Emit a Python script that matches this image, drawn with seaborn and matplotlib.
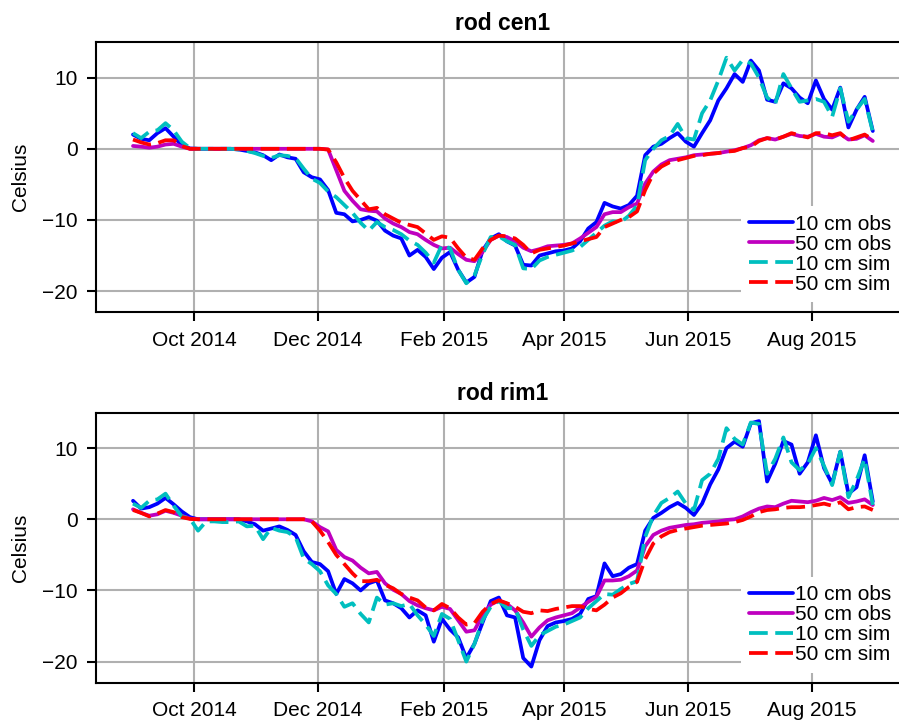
import pandas as pd
import matplotlib.pyplot as plt
import matplotlib.dates as mdates
from matplotlib.ticker import MultipleLocator
import seaborn as sns

# Fechas: una muestra cada 4 dias (1 sep 2014 - 31 ago 2015)
fechas = pd.date_range("2014-09-01", "2015-08-31", freq="4D")

# rod cen1
cen1_obs10 = [2.0, 1.4, 1.2, 2.2, 2.9, 1.7, 0.5, 0.05,
              0, 0, 0, 0, 0, -0.1, -0.3, -0.5, -0.9, -1.6, -0.8, -1.2, -1.4, -3.3, -4.0, -4.3, -5.8,
              -9.0, -9.2, -10.2, -10.0, -9.6, -10.1, -11.5, -12.2, -12.6, -15.0, -14.2, -15.2, -16.9, -15.3, -14.5, -17.0, -18.8,
              -18.0, -14.3, -12.6, -12.0, -13.0, -13.6, -16.3, -16.4, -15.0, -14.7, -14.4, -14.3, -14.0, -13.0, -11.2, -10.3,
              -7.6, -8.1, -8.4, -7.9, -6.6, -0.9, 0.3, 0.7, 1.5, 2.2, 1.0, 0.3, 2.2, 4.0, 6.8, 8.5, 10.5,
              9.4, 12.4, 11.0, 6.9, 6.6, 9.2, 8.5, 7.2, 6.4, 9.6, 7.0, 5.5, 8.6, 3.0, 5.5, 7.3, 2.5]
cen1_obs50 = [0.4, 0.3, 0.15, 0.3, 0.6, 0.7, 0.3, 0.0,
              0, 0, 0, 0, 0, 0, 0, 0, 0, 0, 0, 0, 0, 0, 0, 0, -0.1,
              -3.0, -5.9, -7.3, -8.5, -8.7, -8.8, -9.8, -10.5, -11.0, -11.7, -12.0, -12.8, -13.5, -14.0, -13.9, -14.8, -15.6,
              -15.8, -14.5, -12.8, -12.2, -12.4, -13.0, -13.9, -14.4, -14.1, -13.7, -13.6, -13.5, -13.3, -12.6, -11.8, -11.0,
              -9.2, -8.9, -8.9, -8.2, -7.7, -4.9, -3.2, -2.2, -1.6, -1.4, -1.2, -0.9, -0.8, -0.7, -0.6, -0.4, -0.2,
              0.1, 0.5, 1.2, 1.5, 1.3, 1.7, 2.1, 1.8, 1.7, 2.1, 1.7, 1.6, 2.1, 1.3, 1.4, 1.9, 1.1]
cen1_sim10 = [2.2, 1.5, 2.4, 2.6, 3.6, 2.6, 1.0, 0.1,
              0, 0, 0, 0, 0, -0.1, -0.3, -0.6, -1.0, -1.3, -0.9, -1.0, -1.3, -2.8, -4.2, -4.8, -6.0,
              -6.8, -7.9, -9.0, -10.4, -11.5, -10.3, -11.0, -11.4, -12.0, -12.9, -13.5, -14.6, -16.0, -13.5, -14.0, -17.0, -18.9,
              -17.8, -14.8, -12.4, -12.3, -13.0, -13.5, -16.8, -16.9, -15.7, -15.2, -14.9, -14.6, -14.3, -13.8, -12.8, -11.8,
              -10.8, -10.2, -10.3, -9.4, -8.0, -1.6, 0.0, 1.2, 1.8, 3.5, 1.5, 1.3, 5.0, 6.8, 9.6, 12.8, 11.0,
              12.5, 12.0, 10.0, 7.2, 6.3, 10.5, 8.5, 6.6, 6.8, 7.0, 6.6, 4.5, 8.5, 3.8, 5.5, 7.0, 2.4]
cen1_sim50 = [1.3, 0.9, 0.6, 0.8, 1.2, 1.2, 0.4, 0.0,
              0, 0, 0, 0, 0, 0, 0, 0, 0, 0, 0, 0, 0, 0, 0, 0, -0.1,
              -1.9, -4.1, -5.9, -7.2, -8.5, -8.3, -9.2, -9.8, -10.4, -10.7, -11.0, -11.9, -12.8, -12.3, -12.5, -14.0, -15.3,
              -15.6, -14.0, -12.8, -12.2, -12.3, -12.6, -13.5, -14.7, -14.2, -14.0, -13.8, -13.6, -13.3, -13.0, -12.7, -12.4,
              -11.0, -10.5, -10.0, -9.6, -8.8, -5.8, -3.5, -2.5, -1.9, -1.6, -1.3, -1.0, -0.9, -0.7, -0.6, -0.4, -0.3,
              0.1, 0.3, 1.1, 1.5, 1.3, 1.7, 2.2, 1.9, 1.6, 2.2, 2.2, 1.9, 2.2, 1.2, 1.6, 2.0, 1.3]

# rod rim1
rim1_obs10 = [2.6, 1.5, 1.7, 2.2, 3.0, 2.1, 1.1, 0.3,
              0, 0, 0, 0, 0, 0, -0.3, -0.7, -1.6, -1.3, -1.0, -1.5, -2.2, -4.5, -6.0, -6.3, -7.3,
              -10.5, -8.4, -9.0, -10.0, -9.0, -8.6, -11.4, -11.8, -12.5, -13.8, -12.8, -13.5, -17.2, -14.0, -15.5, -16.6, -19.5,
              -17.5, -14.5, -11.5, -11.0, -13.5, -13.8, -19.5, -20.7, -17.0, -15.0, -14.5, -14.3, -14.0, -13.3, -11.2, -10.8,
              -6.2, -8.0, -7.7, -6.8, -6.3, -1.6, 0.2, 0.9, 1.7, 2.3, 1.6, 0.6, 2.2, 4.9, 7.0, 10.0, 10.9,
              10.2, 13.5, 13.8, 5.3, 7.8, 11.0, 10.5, 6.4, 8.0, 11.8, 7.2, 5.0, 9.5, 3.6, 4.5, 9.0, 2.5]
rim1_obs50 = [1.4, 0.9, 0.5, 0.7, 1.2, 0.9, 0.5, 0.1,
              0, 0, 0, 0, 0, 0, 0, 0, 0, 0, 0, 0, 0, 0, -0.3, -1.1, -1.7,
              -4.3, -5.3, -5.8, -6.8, -7.6, -7.4, -9.0, -9.9, -10.5, -11.5, -12.1, -12.5, -12.8, -12.3, -12.6, -14.2, -15.8,
              -15.6, -13.5, -12.0, -11.4, -11.9, -12.8, -14.5, -16.5, -15.2, -14.2, -13.8, -13.5, -13.2, -12.4, -11.6, -10.9,
              -8.6, -8.6, -8.5, -8.0, -7.2, -3.8, -2.2, -1.6, -1.2, -1.0, -0.8, -0.7, -0.5, -0.4, -0.3, -0.1, 0.0,
              0.4, 1.0, 1.5, 1.8, 1.7, 2.2, 2.6, 2.5, 2.4, 2.6, 3.0, 2.7, 3.1, 2.3, 2.5, 2.8, 2.0]
rim1_sim10 = [2.2, 1.6, 2.6, 2.8, 3.6, 1.9, 0.4, 0.1,
              -1.6, -0.3, -0.3, -0.4, -0.4, -0.3, -1.0, -0.9, -2.8, -1.2, -1.6, -1.8, -2.5, -5.5, -6.3, -7.3, -9.3,
              -10.5, -12.3, -11.8, -13.3, -14.5, -11.0, -12.0, -11.8, -12.2, -11.9, -13.5, -14.8, -16.4, -13.3, -14.0, -17.0, -20.0,
              -17.5, -14.2, -12.3, -11.5, -12.5, -12.5, -15.5, -17.8, -16.3, -15.7, -15.1, -14.8, -14.3, -13.8, -12.5, -11.5,
              -10.5, -10.6, -9.8, -9.1, -8.7, -2.5, 0.5, 2.3, 3.0, 3.9, 2.2, 1.3, 5.5, 6.4, 8.5, 12.8, 11.3,
              10.5, 13.6, 13.4, 6.4, 8.5, 11.5, 8.0, 6.9, 7.8, 10.0, 7.5, 4.8, 9.5, 3.1, 5.5, 8.5, 2.0]
rim1_sim50 = [1.3, 0.9, 0.4, 0.8, 1.3, 1.0, 0.3, 0.05,
              0, 0, 0, 0, 0, 0, 0, 0, 0, 0, 0, 0, 0, 0, -0.3, -1.6, -3.2,
              -5.0, -6.3, -7.6, -8.7, -8.7, -8.5, -9.2, -9.7, -10.5, -11.0, -11.4, -12.4, -12.8, -11.9, -12.5, -13.8, -14.8,
              -14.6, -13.0, -11.9, -11.4, -11.8, -12.3, -13.0, -13.2, -12.8, -12.9, -12.6, -12.4, -12.2, -12.2, -12.6, -12.8,
              -12.0, -11.0, -10.4, -9.5, -8.8, -5.6, -3.4, -2.4, -1.8, -1.5, -1.3, -1.1, -0.9, -0.8, -0.7, -0.6, -0.4,
              -0.1, 0.4, 1.0, 1.3, 1.4, 1.6, 1.7, 1.7, 1.8, 2.0, 2.2, 1.9, 2.4, 1.4, 1.7, 1.8, 1.3]

series = ["10 cm obs", "50 cm obs", "10 cm sim", "50 cm sim"]
colores = {"10 cm obs": "#0000ff", "50 cm obs": "#bf00bf", "10 cm sim": "#00bfbf", "50 cm sim": "#ff0000"}
estilos = {"10 cm obs": "-", "50 cm obs": "-", "10 cm sim": "--", "50 cm sim": "--"}

paneles = [
    ("rod cen1", {"10 cm obs": cen1_obs10, "50 cm obs": cen1_obs50, "10 cm sim": cen1_sim10, "50 cm sim": cen1_sim50}),
    ("rod rim1", {"10 cm obs": rim1_obs10, "50 cm obs": rim1_obs50, "10 cm sim": rim1_sim10, "50 cm sim": rim1_sim50}),
]

sns.set_theme(style="ticks", rc={"axes.edgecolor": "black", "axes.linewidth": 1.0,
                                 "text.color": "black", "axes.labelcolor": "black",
                                 "xtick.color": "black", "ytick.color": "black"})
plt.rcParams["font.family"] = ["Liberation Sans", "DejaVu Sans"]
plt.rcParams["lines.dashed_pattern"] = [5.0, 2.0]

fig, axes = plt.subplots(2, 1, figsize=(899 / 150, 725 / 150), dpi=150)
fig.subplots_adjust(left=0.1068, right=1.012, top=0.942, bottom=0.058, hspace=0.37)

for ax, (titulo, datos) in zip(axes, paneles):
    for nombre in series:
        sns.lineplot(x=fechas, y=datos[nombre], ax=ax, color=colores[nombre],
                     linestyle=estilos[nombre], lw=1.8, label=nombre)
    ax.set_title(titulo, fontsize=11, fontweight="bold", color="black")
    ax.set_xlabel("")
    ax.set_ylabel("Celsius", fontsize=10, labelpad=6, color="black")
    ax.set_ylim(-23, 15)
    ax.yaxis.set_major_locator(MultipleLocator(10))
    ax.xaxis.set_major_locator(mdates.MonthLocator(bymonth=[2, 4, 6, 8, 10, 12]))
    ax.xaxis.set_major_formatter(mdates.DateFormatter("%b %Y"))
    ax.tick_params(labelsize=10, length=4.2, width=1.0, pad=4.5)
    ax.grid(True, color="#b0b0b0", lw=1.0)
    ax.set_axisbelow(True)
    ax.legend(loc="lower right", fontsize=10, frameon=True, fancybox=False,
              facecolor="white", edgecolor="none", framealpha=1,
              handlelength=2.1, handletextpad=0.1, labelspacing=0.05)

fig.savefig("out.png", dpi=150)
